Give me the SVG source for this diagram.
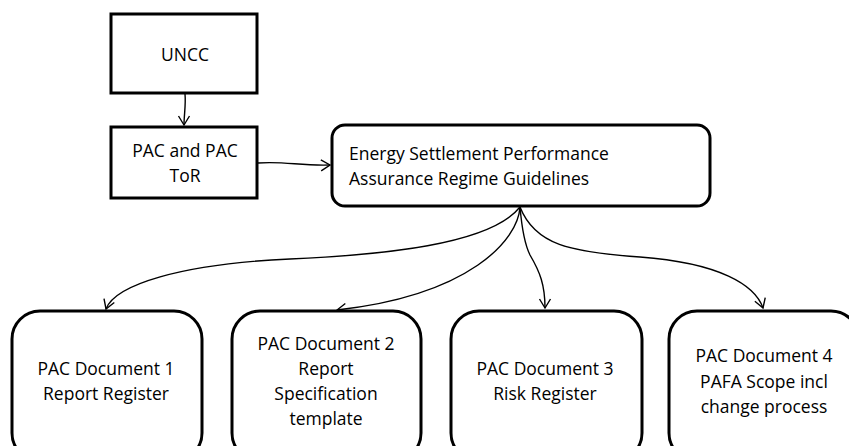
<svg xmlns="http://www.w3.org/2000/svg" width="849" height="446" viewBox="0 0 849 446">
<style>
.box{fill:#fff;stroke:#000;stroke-width:3}
.t{font-family:"Open Sans","Liberation Sans",Arial,sans-serif;font-size:17.5px;fill:#000}
.c{text-anchor:middle}
.conn{fill:none;stroke:#000;stroke-width:1.4}
</style>
<defs>
<marker id="arr" markerUnits="userSpaceOnUse" viewBox="-11 -7 13 14" refX="0" refY="0" markerWidth="13" markerHeight="14" orient="auto">
<path d="M-9,-5.5 L0,0 L-9,5.5" fill="none" stroke="#000" stroke-width="1.4"/>
</marker>
</defs>
<rect width="849" height="446" fill="#fff"/>
<g id="connectors">
<path class="conn" marker-end="url(#arr)" d="M185,94 C186,105 184,115 184,125"/>
<path class="conn" marker-end="url(#arr)" d="M258,163 C285,161 300,166 330,165"/>
<path class="conn" marker-end="url(#arr)" d="M520,207 C490,245 380,255 290,259 C180,264 115,285 106,309"/>
<path class="conn" marker-end="url(#arr)" d="M520,207 C518,240 470,295 337,310"/>
<path class="conn" marker-end="url(#arr)" d="M520,207 C522,230 525,245 530,255 C540,272 545,285 545,308"/>
<path class="conn" marker-end="url(#arr)" d="M520,207 C535,245 570,252 640,257 C720,263 755,285 763,308"/>
</g>
<g id="uncc">
<rect class="box" x="111" y="14" width="146" height="79"/>
<text class="t c" x="185" y="61">UNCC</text>
</g>
<g id="pac">
<rect class="box" x="111" y="127" width="146" height="71"/>
<text class="t c" x="185" y="157">PAC and PAC</text>
<text class="t c" x="185" y="182">ToR</text>
</g>
<g id="energy">
<rect class="box" x="332" y="125" width="378" height="81" rx="13"/>
<text class="t" x="349" y="160">Energy Settlement Performance</text>
<text class="t" x="349" y="185">Assurance Regime Guidelines</text>
</g>
<g id="doc1">
<rect class="box" x="12" y="311" width="190" height="150" rx="28"/>
<text class="t c" x="106" y="375">PAC Document 1</text>
<text class="t c" x="106" y="400">Report Register</text>
</g>
<g id="doc2">
<rect class="box" x="232" y="311" width="189" height="150" rx="28"/>
<text class="t c" x="326" y="350">PAC Document 2</text>
<text class="t c" x="326" y="375">Report</text>
<text class="t c" x="326" y="400">Specification</text>
<text class="t c" x="326" y="425">template</text>
</g>
<g id="doc3">
<rect class="box" x="451" y="311" width="191" height="150" rx="28"/>
<text class="t c" x="545" y="375">PAC Document 3</text>
<text class="t c" x="545" y="400">Risk Register</text>
</g>
<g id="doc4">
<rect class="box" x="669" y="311" width="190" height="150" rx="28"/>
<text class="t c" x="764" y="362">PAC Document 4</text>
<text class="t c" x="764" y="388">PAFA Scope incl</text>
<text class="t c" x="764" y="413">change process</text>
</g>
</svg>
